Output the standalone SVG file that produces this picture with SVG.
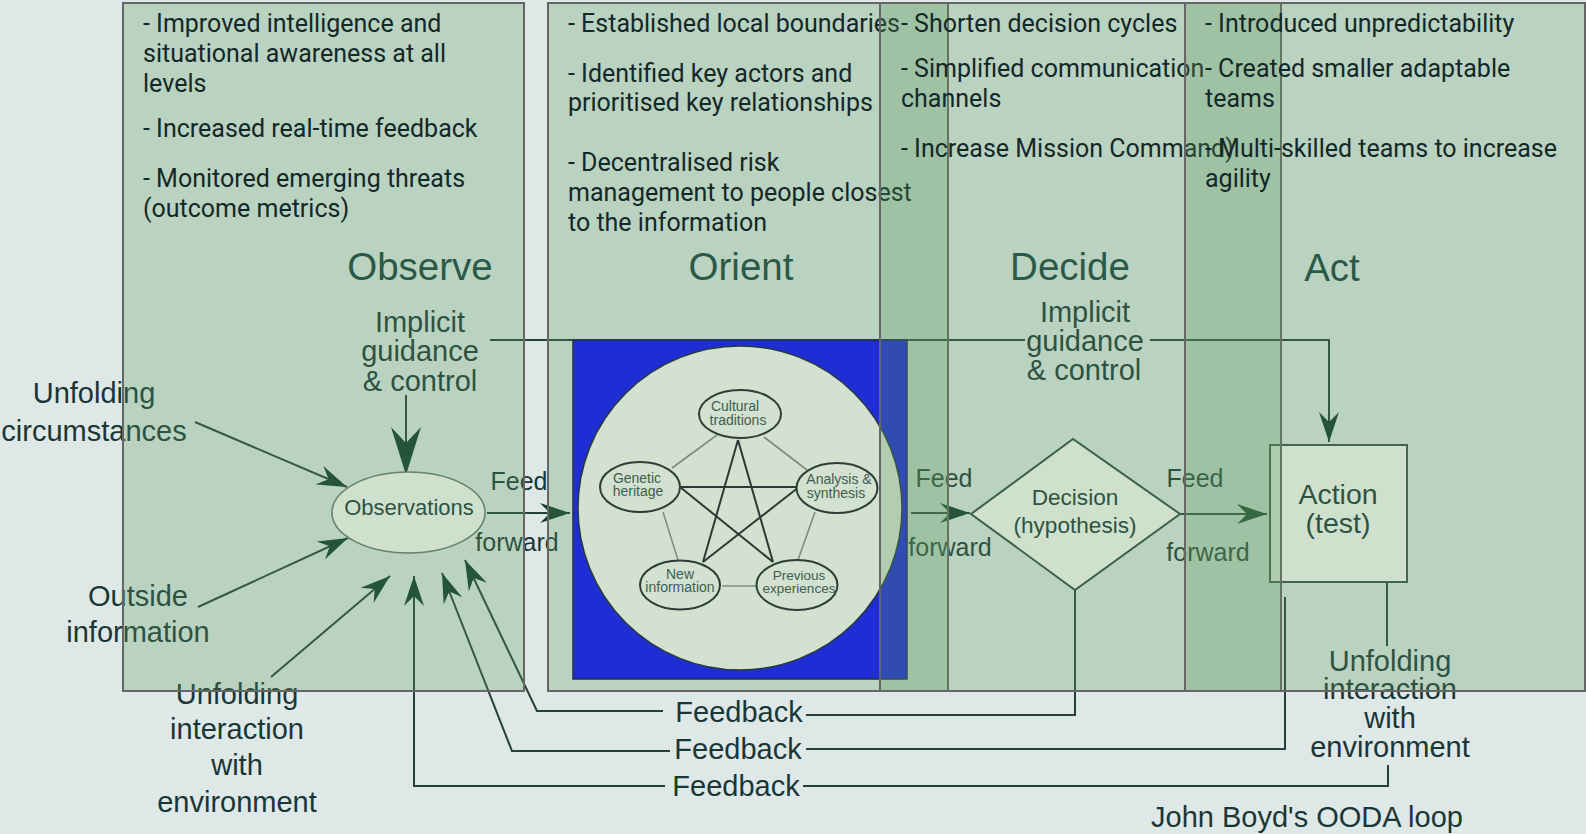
<svg xmlns="http://www.w3.org/2000/svg" width="1586" height="834" viewBox="0 0 1586 834">
<style>
.bt{font-family:Roboto,'Liberation Sans',sans-serif;font-size:25px;fill:#132828}
.lb{font-family:'Liberation Sans',Arial,sans-serif;font-size:29px;fill:#1a3636;text-anchor:middle}
.hd{font-size:38.5px;fill:#164140}
.ff{font-size:25px}
.nd{font-size:22.6px}
.ob{font-size:22px}
.ac{font-size:28.5px}
.sm{font-family:'Liberation Sans',Arial,sans-serif;font-size:14px;fill:#3e5e50;text-anchor:middle}
.sx{font-size:13.5px}
.ln{fill:none;stroke:#253f3a;stroke-width:2}
.box{fill:#5c9a5e;fill-opacity:0.28;stroke:#666;stroke-width:2}
.pe{fill:#d3e1d0;stroke:#2c3e36;stroke-width:2}
.star{stroke:#2c3a34;stroke-width:2}
.edge{stroke:#7d8d80;stroke-width:1.6}
</style>
<defs>
<marker id="ahB" markerUnits="userSpaceOnUse" orient="auto" markerWidth="60" markerHeight="40" refX="48" refY="15" overflow="visible">
<path d="M0,0 L48,15 L0,30 L16,15 Z" fill="#0f3b2d"/>
</marker>
<marker id="ahM" markerUnits="userSpaceOnUse" orient="auto" markerWidth="40" markerHeight="30" refX="30" refY="10" overflow="visible">
<path d="M0,0 L30,10 L0,20 L10,10 Z" fill="#0f3b2d"/>
</marker>
</defs>
<rect width="1586" height="834" fill="#dee8e6"/>

<g id="connectors">
<path class="ln" d="M195,422 L347,487" marker-end="url(#ahM)"/>
<path class="ln" d="M198,607 L348,538" marker-end="url(#ahM)"/>
<path class="ln" d="M271,677 L390,576" marker-end="url(#ahM)"/>
<path class="ln" d="M406,395 L406,475" stroke-width="2.5" marker-end="url(#ahB)"/>
<path class="ln" d="M665,786 L414,786 L414,576" marker-end="url(#ahM)"/>
<path class="ln" d="M670,751 L512,751 L442,573" stroke-width="2.6" marker-end="url(#ahM)"/>
<path class="ln" d="M663,711 L537,711 L465,560" marker-end="url(#ahM)"/>
<path class="ln" d="M806,715 L1075,715 L1075,590"/>
<path class="ln" d="M806,749 L1285,749 L1285,597"/>
<path class="ln" d="M803,786 L1388,786 L1388,765"/>
<path class="ln" d="M1387,582 L1387,646"/>
<path class="ln" d="M490,340 L1025,340"/>
<path class="ln" d="M1150,340 L1329,340 L1329,442" marker-end="url(#ahM)"/>
<path class="ln" d="M487,513 L570,513" marker-end="url(#ahM)"/>
<path class="ln" d="M911,513 L970,513" marker-end="url(#ahM)"/>
<path class="ln" d="M1180,514 L1267,514" marker-end="url(#ahM)"/>
</g>

<g id="observations">
<ellipse cx="408.5" cy="512.5" rx="76.5" ry="40.5" fill="#fbfdf9" stroke="#6a7a70" stroke-width="1.6"/>
<text class="lb ob" x="409" y="515">Observations</text>
</g>
<g id="decision">
<path d="M971,514 L1073,439 L1180,514 L1075,590 Z" fill="#fbfdf9" stroke="#2e4a40" stroke-width="2"/>
<text class="lb nd" x="1075" y="505">Decision</text>
<text class="lb nd" x="1075" y="533">(hypothesis)</text>
</g>
<g id="action">
<rect x="1270" y="445" width="137" height="137" fill="#fbfdf9" stroke="#3a5048" stroke-width="2"/>
<text class="lb ac" x="1338" y="504">Action</text>
<text class="lb ac" x="1338" y="533">(test)</text>
</g>

<g id="labels">
<text class="lb hd" x="420" y="280">Observe</text>
<text class="lb hd" x="741" y="280">Orient</text>
<text class="lb hd" x="1070" y="280">Decide</text>
<text class="lb hd" x="1332" y="281">Act</text>
<text class="lb" x="420" y="332">Implicit</text>
<text class="lb" x="420" y="361">guidance</text>
<text class="lb" x="420" y="391">&amp; control</text>
<text class="lb" x="1085" y="322">Implicit</text>
<text class="lb" x="1085" y="351">guidance</text>
<text class="lb" x="1084" y="380">&amp; control</text>
<text class="lb" x="94" y="403">Unfolding</text>
<text class="lb" x="94" y="441">circumstances</text>
<text class="lb" x="138" y="606">Outside</text>
<text class="lb" x="138" y="642">information</text>
<text class="lb" x="237" y="704">Unfolding</text>
<text class="lb" x="237" y="739">interaction</text>
<text class="lb" x="237" y="775">with</text>
<text class="lb" x="237" y="812">environment</text>
<text class="lb" x="1390" y="671">Unfolding</text>
<text class="lb" x="1390" y="699">interaction</text>
<text class="lb" x="1390" y="728">with</text>
<text class="lb" x="1390" y="757">environment</text>
<text class="lb ff" x="519" y="490">Feed</text>
<text class="lb ff" x="517" y="551">forward</text>
<text class="lb ff" x="944" y="487">Feed</text>
<text class="lb ff" x="950" y="556">forward</text>
<text class="lb ff" x="1195" y="487">Feed</text>
<text class="lb ff" x="1208" y="561">forward</text>
<text class="lb" x="739" y="722">Feedback</text>
<text class="lb" x="738" y="759">Feedback</text>
<text class="lb" x="736" y="796">Feedback</text>
<text class="lb" x="1307" y="827">John Boyd's OODA loop</text>
</g>

<g id="observe-box">
<rect class="box" x="123" y="3" width="401" height="688"/>
<text class="bt" x="143" y="32">- Improved intelligence and</text>
<text class="bt" x="143" y="62">situational awareness at all</text>
<text class="bt" x="143" y="92">levels</text>
<text class="bt" x="143" y="137">- Increased real-time feedback</text>
<text class="bt" x="143" y="187">- Monitored emerging threats</text>
<text class="bt" x="143" y="217">(outcome metrics)</text>
</g>

<g id="orient-box">
<rect class="box" x="548" y="3" width="400" height="688"/>
<text class="bt" x="568" y="32">- Established local boundaries</text>
<text class="bt" x="568" y="82">- Identified key actors and</text>
<text class="bt" x="568" y="111">prioritised key relationships</text>
<text class="bt" x="568" y="171">- Decentralised risk</text>
<text class="bt" x="568" y="201">management to people closest</text>
<text class="bt" x="568" y="231">to the information</text>
</g>

<g id="orientation">
<rect x="573" y="340" width="334" height="339" fill="#1f2ed4" stroke="#22304a" stroke-width="1.5"/>
<circle cx="740" cy="508" r="162" fill="#d3e1d0" stroke="#2a3a3a" stroke-width="1.5"/>
<g id="pentagon-edges">
<line class="edge" x1="717" y1="435" x2="672" y2="468"/>
<line class="edge" x1="764" y1="437" x2="807" y2="470"/>
<line class="edge" x1="663" y1="512" x2="678" y2="560"/>
<line class="edge" x1="815" y1="512" x2="798" y2="560"/>
<line class="edge" x1="722" y1="586" x2="757" y2="586"/>
<line class="star" x1="738" y1="440" x2="703" y2="562"/>
<line class="star" x1="738" y1="440" x2="773" y2="562"/>
<line class="star" x1="680" y1="487" x2="799" y2="487"/>
<line class="star" x1="680" y1="487" x2="773" y2="562"/>
<line class="star" x1="799" y1="487" x2="703" y2="562"/>
</g>
<g id="cultural-traditions">
<ellipse class="pe" cx="740" cy="414" rx="41" ry="24"/>
<text class="sm" x="735" y="411">Cultural</text>
<text class="sm" x="738" y="425">traditions</text>
</g>
<g id="genetic-heritage">
<ellipse class="pe" cx="640" cy="487" rx="40" ry="25"/>
<text class="sm" x="637" y="483">Genetic</text>
<text class="sm" x="638" y="496">heritage</text>
</g>
<g id="analysis-synthesis">
<ellipse class="pe" cx="837" cy="488" rx="40.5" ry="25"/>
<text class="sm" x="839" y="484">Analysis &amp;</text>
<text class="sm" x="836" y="498">synthesis</text>
</g>
<g id="new-information">
<ellipse class="pe" cx="680" cy="585" rx="40" ry="24.5"/>
<text class="sm" x="680" y="579">New</text>
<text class="sm" x="680" y="592">information</text>
</g>
<g id="previous-experiences">
<ellipse class="pe" cx="797" cy="585" rx="40.5" ry="25"/>
<text class="sm sx" x="799" y="580">Previous</text>
<text class="sm sx" x="799" y="593">experiences</text>
</g>
</g>

<g id="decide-box">
<rect class="box" x="880" y="3" width="401" height="688"/>
<text class="bt" x="901" y="32">- Shorten decision cycles</text>
<text class="bt" x="901" y="77">- Simplified communication</text>
<text class="bt" x="901" y="107">channels</text>
<text class="bt" x="901" y="157">- Increase Mission Command)</text>
</g>

<g id="act-box">
<rect class="box" x="1185" y="3" width="400" height="688"/>
<text class="bt" x="1205" y="32">- Introduced unpredictability</text>
<text class="bt" x="1205" y="77">- Created smaller adaptable</text>
<text class="bt" x="1205" y="107">teams</text>
<text class="bt" x="1205" y="157">- Multi-skilled teams to increase</text>
<text class="bt" x="1205" y="187">agility</text>
</g>
</svg>
